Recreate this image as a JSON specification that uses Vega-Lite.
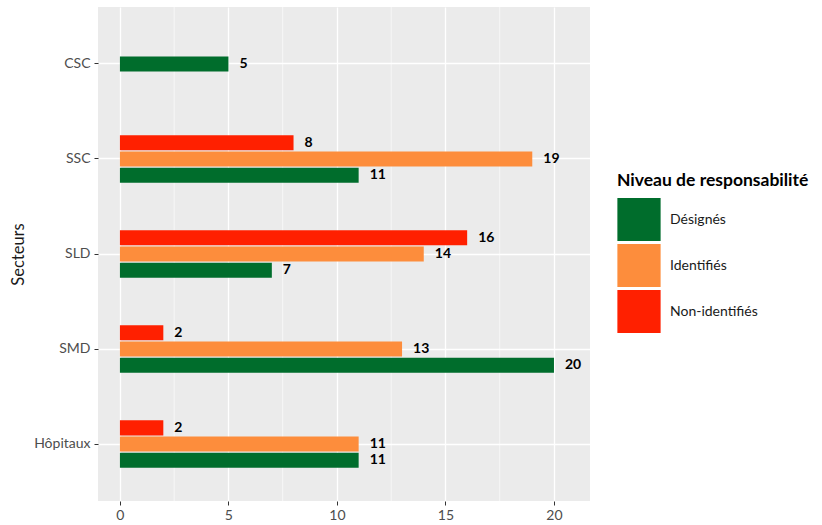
{
  "$schema": "https://vega.github.io/schema/vega-lite/v6.json",
  "autosize": {"type": "none"},
  "padding": {"left": 98, "top": 7, "right": 232, "bottom": 24},
  "width": 492,
  "height": 494,
  "background": "white",
  "config": {
    "font": "Lato",
    "view": {"fill": "#EBEBEB", "stroke": null},
    "axis": {
      "domain": false,
      "grid": true,
      "gridColor": "white",
      "gridWidth": 1.3,
      "tickColor": "#333333",
      "tickSize": 4,
      "labelColor": "#4D4D4D",
      "labelFontSize": 14,
      "labelFont": "Lato",
      "titleFont": "Lato",
      "titleFontWeight": "normal",
      "titleFontSize": 16.5,
      "titleColor": "#1A1A1A"
    }
  },
  "data": {
    "values": [
      {"secteur": "CSC", "niveau": "Désignés", "n": 5},
      {"secteur": "SSC", "niveau": "Non-identifiés", "n": 8},
      {"secteur": "SSC", "niveau": "Identifiés", "n": 19},
      {"secteur": "SSC", "niveau": "Désignés", "n": 11},
      {"secteur": "SLD", "niveau": "Non-identifiés", "n": 16},
      {"secteur": "SLD", "niveau": "Identifiés", "n": 14},
      {"secteur": "SLD", "niveau": "Désignés", "n": 7},
      {"secteur": "SMD", "niveau": "Non-identifiés", "n": 2},
      {"secteur": "SMD", "niveau": "Identifiés", "n": 13},
      {"secteur": "SMD", "niveau": "Désignés", "n": 20},
      {"secteur": "Hôpitaux", "niveau": "Non-identifiés", "n": 2},
      {"secteur": "Hôpitaux", "niveau": "Identifiés", "n": 11},
      {"secteur": "Hôpitaux", "niveau": "Désignés", "n": 11}
    ]
  },
  "transform": [
    {"calculate": "datum.secteur === 'CSC' ? 'Identifiés' : datum.niveau", "as": "slot"}
  ],
  "encoding": {
    "y": {
      "field": "secteur",
      "type": "nominal",
      "sort": ["CSC", "SSC", "SLD", "SMD", "Hôpitaux"],
      "scale": {"paddingInner": 0.495, "paddingOuter": 0.347},
      "axis": {"title": "Secteurs", "grid": true, "bandPosition": 0.5, "labelPadding": 4, "titlePadding": 7}
    },
    "yOffset": {
      "field": "slot",
      "type": "nominal",
      "sort": ["Non-identifiés", "Identifiés", "Désignés"],
      "scale": {"paddingInner": 0.07, "paddingOuter": 0.02}
    }
  },
  "layer": [
    {
      "data": {"values": [{"m": 2.5}, {"m": 7.5}, {"m": 12.5}, {"m": 17.5}]},
      "mark": {"type": "rule", "color": "white", "strokeWidth": 0.6},
      "encoding": {
        "x": {"field": "m", "type": "quantitative"},
        "y": null,
        "yOffset": null
      }
    },
    {
      "mark": {"type": "bar"},
      "encoding": {
        "x": {
          "field": "n",
          "type": "quantitative",
          "scale": {"domain": [-1.01, 21.66], "nice": false, "zero": false},
          "axis": {"title": null, "values": [0, 5, 10, 15, 20], "labelPadding": 3}
        },
        "color": {
          "field": "niveau",
          "type": "nominal",
          "sort": ["Désignés", "Identifiés", "Non-identifiés"],
          "scale": {"domain": ["Désignés", "Identifiés", "Non-identifiés"], "range": ["#006D2C", "#FD8D3C", "#FF2000"]},
          "legend": {
            "title": "Niveau de responsabilité",
            "orient": "none",
            "legendX": 519,
            "legendY": 165,
            "titleFont": "Lato",
            "titleFontSize": 17.5,
            "titleFontWeight": "bold",
            "titleColor": "#000000",
            "titleLimit": 400,
            "titlePadding": 8,
            "symbolType": "square",
            "symbolSize": 1870,
            "symbolStrokeWidth": 0,
            "symbolOpacity": 1,
            "rowPadding": 2,
            "labelFont": "Lato",
            "labelFontSize": 14,
            "labelColor": "#1A1A1A",
            "labelOffset": 9
          }
        }
      }
    },
    {
      "mark": {"type": "text", "align": "left", "baseline": "middle", "dx": 11, "fontWeight": "bold", "fontSize": 14, "color": "#000000"},
      "encoding": {
        "x": {"field": "n", "type": "quantitative"},
        "text": {"field": "n", "type": "quantitative"}
      }
    }
  ]
}
